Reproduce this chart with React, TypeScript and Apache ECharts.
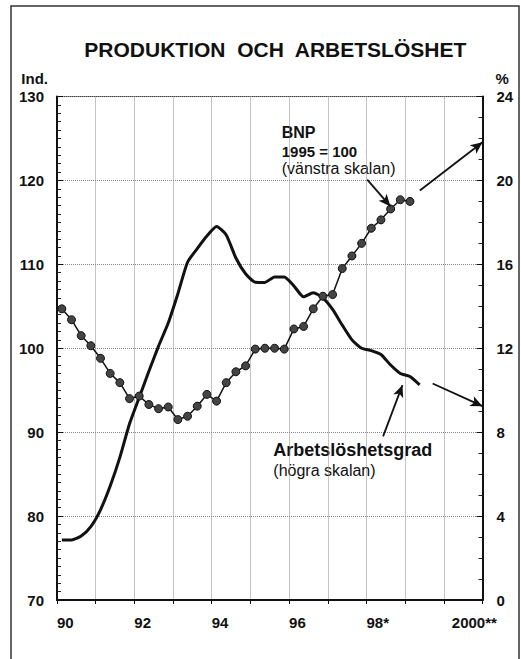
import React, { useEffect, useRef } from "react";
import * as echarts from "echarts";

// Years covered by the quarterly series (1990Q1 .. )
const bnpStartYear = 1990;
// BNP, 1995 = 100 (left scale), quarterly from 1990Q1 to 1999Q1
const bnpValues = [
  104.7, 103.4, 101.5, 100.3, 98.8, 97.0, 95.9, 94.0, 94.3, 93.3, 92.8, 93.0,
  91.5, 91.9, 93.1, 94.5, 93.7, 95.9, 97.2, 97.9, 99.9, 100.0, 100.0, 99.9,
  102.3, 102.6, 104.7, 106.2, 106.4, 109.5, 111.0, 112.5, 114.3, 115.3, 116.6,
  117.7, 117.5,
];
// Arbetslöshetsgrad, % (right scale), quarterly from 1990Q1 to 1999Q2
const unemploymentValues = [
  2.86, 2.86, 3.05, 3.5, 4.3, 5.43, 6.8, 8.4, 9.65, 10.9, 12.1, 13.2, 14.6,
  16.1, 16.75, 17.35, 17.8, 17.4, 16.3, 15.55, 15.15, 15.14, 15.4, 15.4, 14.97,
  14.45, 14.65, 14.4, 13.85, 13.1, 12.4, 12.0, 11.89, 11.7, 11.2, 10.8, 10.65,
  10.25,
];
// x-axis tick labels
const xTickLabels: Record<number, string> = {
  1990: "90",
  1992: "92",
  1994: "94",
  1996: "96",
  1998: "98*",
  2000: "2000**",
};
// annotation arrows (in year / left-scale units)
const arrows = [
  [[1998.02, 120.1], [1998.62, 116.9]],
  [[1999.38, 118.8], [2001.0, 124.55]],
  [[1998.43, 89.5], [1998.93, 95.6]],
  [[1999.71, 95.8], [2001.0, 93.1]],
];

const FONT = "'Liberation Sans', Arial, Helvetica, sans-serif";

function quarterX(i: number) {
  return bnpStartYear + Math.floor(i / 4) + ((i % 4) + 0.5) / 4;
}

export default function App() {
  const ref = useRef<HTMLDivElement>(null);
  useEffect(() => {
    if (!ref.current) return;
    const chart = echarts.init(ref.current, undefined, { renderer: "svg" });
    const bnpData = bnpValues.map((v, i) => [quarterX(i), v]);
    const unData = unemploymentValues.map((v, i) => [quarterX(i), v]);
    const labelStyle = {
      fontFamily: FONT,
      fontWeight: "bold" as const,
      fontSize: 15,
      color: "#111",
    };
    const option: any = {
      animation: false,
      backgroundColor: "#fff",
      grid: {
        left: 57,
        right: 38.5,
        top: 96.5,
        bottom: 59,
        show: true,
        borderColor: "#444",
        borderWidth: 1,
      },
      xAxis: {
        type: "value",
        min: 1990,
        max: 2001,
        interval: 1,
        axisLine: { show: true, onZero: false, lineStyle: { color: "#111", width: 2 } },
        axisTick: { show: true, length: 4, lineStyle: { color: "#111", width: 1 } },
        axisLabel: {
          ...labelStyle,
          margin: 15,
          align: "left",
          formatter: (v: number) => {
            const t = xTickLabels[Math.round(v)];
            if (!t) return "";
            if (Math.round(v) === 2000) return "{s|" + t + "}";
            return t;
          },
          rich: {
            s: { ...labelStyle, padding: [0, 0, 0, 8] },
          },
        },
        splitLine: { show: true, lineStyle: { color: "#888", type: "dotted", width: 1 } },
      },
      yAxis: [
        {
          type: "value",
          min: 70,
          max: 130,
          interval: 10,
          position: "left",
          name: "Ind.",
          nameLocation: "end",
          nameGap: 18,
          nameTextStyle: {
            ...labelStyle,
            align: "right",
            verticalAlign: "middle",
            padding: [0, 9, 0, 0],
          },
          axisLine: { show: true, lineStyle: { color: "#111", width: 2 } },
          axisTick: { show: true, inside: true, length: 6, lineStyle: { color: "#111" } },
          minorTick: { show: true, splitNumber: 10, length: 4, lineStyle: { color: "#222" } },
          axisLabel: { ...labelStyle, margin: 13 },
          splitLine: { show: true, lineStyle: { color: "#888", type: "dotted", width: 1 } },
        },
        {
          type: "value",
          min: 0,
          max: 24,
          interval: 4,
          position: "right",
          name: "%",
          nameLocation: "end",
          nameGap: 18,
          nameTextStyle: {
            ...labelStyle,
            align: "left",
            verticalAlign: "middle",
            padding: [0, 0, 0, 13],
          },
          axisLine: { show: true, lineStyle: { color: "#111", width: 2 } },
          axisTick: { show: true, inside: true, length: 6, lineStyle: { color: "#111" } },
          minorTick: { show: true, splitNumber: 4, length: 4, lineStyle: { color: "#222" } },
          axisLabel: { ...labelStyle, margin: 14 },
          splitLine: { show: false },
        },
      ],
      series: [
        {
          name: "Arbetslöshetsgrad",
          type: "line",
          yAxisIndex: 1,
          data: unData,
          showSymbol: false,
          smooth: 0.2,
          lineStyle: { color: "#111", width: 3 },
          z: 3,
        },
        {
          name: "BNP",
          type: "line",
          yAxisIndex: 0,
          data: bnpData,
          symbol: "circle",
          symbolSize: 8,
          itemStyle: { color: "#444", borderColor: "#111", borderWidth: 1 },
          lineStyle: { color: "#111", width: 1.5 },
          z: 4,
          markLine: {
            silent: true,
            symbol: ["none", "arrow"],
            symbolSize: [8, 12],
            label: { show: false },
            lineStyle: { color: "#111", width: 1.8, type: "solid" },
            data: arrows.map(([a, b]) => [{ coord: a }, { coord: b }]),
          },
        },
      ],
      graphic: [
        {
          type: "rect",
          shape: { x: 11, y: 6, width: 508, height: 720 },
          style: { fill: "none", stroke: "#333", lineWidth: 1.5 },
          z: 0,
        },
        {
          type: "text",
          x: 275.3,
          y: 49,
          style: {
            text: "PRODUKTION  OCH  ARBETSLÖSHET",
            fontFamily: FONT,
            fontWeight: "bold",
            fontSize: 21,
            fill: "#111",
            align: "center",
            verticalAlign: "middle",
            textAlign: "center",
            textVerticalAlign: "middle",
          },
        },
        {
          type: "text",
          x: 281.7,
          y: 132.5,
          style: {
            text: "BNP",
            fontFamily: FONT,
            fontWeight: "bold",
            fontSize: 16,
            fill: "#111",
            align: "left",
            verticalAlign: "middle",
            textAlign: "left",
            textVerticalAlign: "middle",
          },
        },
        {
          type: "text",
          x: 281.7,
          y: 151.5,
          style: {
            text: "1995 = 100",
            fontFamily: FONT,
            fontWeight: "bold",
            fontSize: 15,
            fill: "#111",
            align: "left",
            verticalAlign: "middle",
            textAlign: "left",
            textVerticalAlign: "middle",
          },
        },
        {
          type: "text",
          x: 281.7,
          y: 168,
          style: {
            text: "(vänstra skalan)",
            fontFamily: FONT,
            fontSize: 16,
            fill: "#111",
            align: "left",
            verticalAlign: "middle",
            textAlign: "left",
            textVerticalAlign: "middle",
          },
        },
        {
          type: "text",
          x: 273.3,
          y: 450,
          style: {
            text: "Arbetslöshetsgrad",
            fontFamily: FONT,
            fontWeight: "bold",
            fontSize: 18,
            fill: "#111",
            align: "left",
            verticalAlign: "middle",
            textAlign: "left",
            textVerticalAlign: "middle",
          },
        },
        {
          type: "text",
          x: 273.3,
          y: 470,
          style: {
            text: "(högra skalan)",
            fontFamily: FONT,
            fontSize: 16,
            fill: "#111",
            align: "left",
            verticalAlign: "middle",
            textAlign: "left",
            textVerticalAlign: "middle",
          },
        },
      ],
    };
    chart.setOption(option);
    return () => chart.dispose();
  }, []);
  return (
    <div
      ref={ref}
      style={{
        position: "fixed",
        left: 0,
        top: 0,
        width: 521,
        height: 659,
        background: "#fff",
      }}
    />
  );
}
